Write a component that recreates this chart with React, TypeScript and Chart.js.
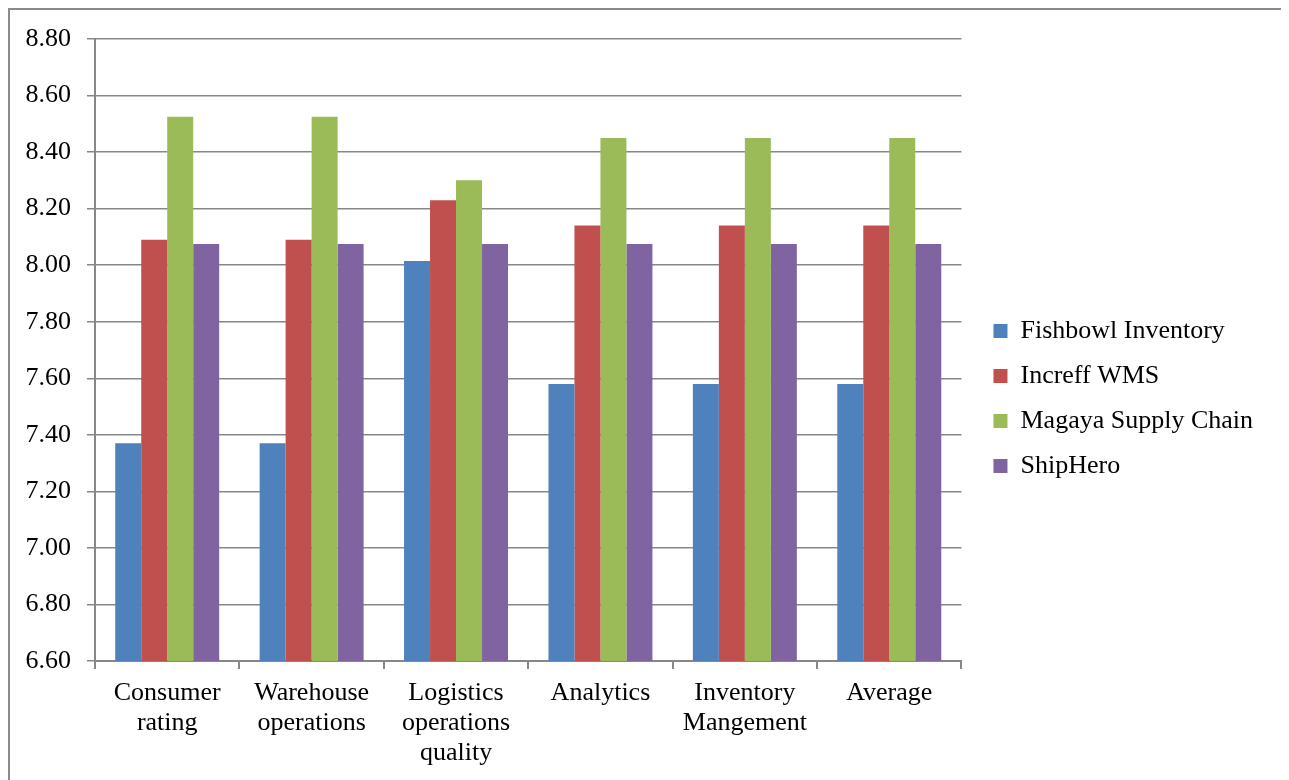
import React, { useEffect, useRef } from "react";
import { Chart, registerables } from "chart.js";

Chart.register(...registerables);

const categories: (string | string[])[] = [
  ["Consumer", "rating"],
  ["Warehouse", "operations"],
  ["Logistics", "operations", "quality"],
  "Analytics",
  ["Inventory", "Mangement"],
  "Average",
];

const seriesNames = ["Fishbowl Inventory", "Increff WMS", "Magaya Supply Chain", "ShipHero"];
const fishbowl = [7.37, 7.37, 8.015, 7.58, 7.58, 7.58];
const increff = [8.09, 8.09, 8.23, 8.14, 8.14, 8.14];
const magaya = [8.525, 8.525, 8.3, 8.45, 8.45, 8.45];
const shiphero = [8.075, 8.075, 8.075, 8.075, 8.075, 8.075];
const colors = ["#4F81BD", "#C0504D", "#9BBB59", "#8064A2"];

const yMin = 6.6;
const yMax = 8.8;
const yStep = 0.2;

const FONT = "'Liberation Serif', 'Times New Roman', serif";
const GRID = "#878787";
const LEGEND_GAP = 13;

// leaves a gap between the plot area and the legend
const gapPlugin = {
  id: "legendGap",
  afterLayout(chart: any) {
    const area = chart.chartArea;
    area.right -= LEGEND_GAP;
    area.width -= LEGEND_GAP;
    const x = chart.scales.x;
    x.right -= LEGEND_GAP;
    x.width -= LEGEND_GAP;
    x.configure();
  },
};

export default function App() {
  const ref = useRef<HTMLCanvasElement | null>(null);
  useEffect(() => {
    if (!ref.current) return;
    const values = [fishbowl, increff, magaya, shiphero];
    const chart = new Chart(ref.current, {
      type: "bar",
      data: {
        labels: categories,
        datasets: seriesNames.map((name, i) => ({
          label: name,
          data: values[i],
          backgroundColor: colors[i],
          borderWidth: 0,
          categoryPercentage: 0.72,
          barPercentage: 1,
        })),
      },
      plugins: [gapPlugin],
      options: {
        responsive: false,
        animation: false,
        layout: { padding: { top: 29, left: 0, right: 22, bottom: 0 } },
        plugins: {
          tooltip: { enabled: false },
          legend: {
            position: "right",
            align: "start",
            title: {
              display: true,
              text: "",
              font: { size: 10, lineHeight: 1 },
              padding: { top: 250, bottom: 0 },
            },
            labels: {
              boxWidth: 14,
              boxHeight: 14,
              padding: 19,
              color: "#000",
              font: { family: FONT, size: 26 },
            },
          },
        },
        scales: {
          x: {
            offset: true,
            grid: {
              offset: true,
              drawOnChartArea: false,
              drawTicks: true,
              tickLength: 8,
              color: GRID,
              lineWidth: 2,
            },
            border: { display: true, color: GRID, width: 2 },
            ticks: {
              color: "#000",
              padding: 9,
              maxRotation: 0,
              autoSkip: false,
              font: { family: FONT, size: 26, lineHeight: 1.15 },
            },
            afterFit: (s: any) => {
              s.height = 119;
            },
          },
          y: {
            min: yMin,
            max: yMax,
            grid: { color: GRID, lineWidth: 1.5, tickLength: 8 },
            border: { display: true, color: GRID, width: 2 },
            ticks: {
              stepSize: yStep,
              color: "#000",
              padding: 16,
              font: { family: FONT, size: 26 },
              callback: (v: any) => Number(v).toFixed(2),
            },
            afterFit: (s: any) => {
              s.width = 85;
              s.paddingTop = 0;
              s.paddingBottom = 0;
            },
          },
        },
      } as any,
    });
    return () => chart.destroy();
  }, []);

  return (
    <div
      style={{
        width: 1275,
        height: 790,
        border: `2px solid #8a8a8a`,
        borderBottom: "none",
        background: "#fff",
      }}
    >
      <canvas ref={ref} width={1275} height={770} style={{ display: "block" }} />
    </div>
  );
}
